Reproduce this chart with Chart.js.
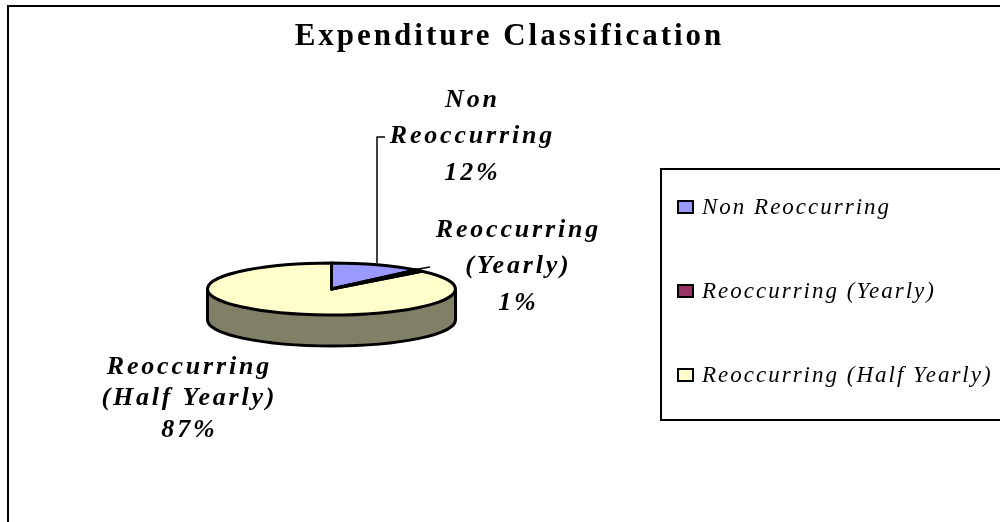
<!DOCTYPE html>
<html>
<head>
<meta charset="utf-8">
<script src="https://cdn.jsdelivr.net/npm/chart.js@4.4.1/dist/chart.umd.min.js"></script>
<style>
  html, body { margin: 0; padding: 0; background: #fff; }
  #wrap { width: 1000px; height: 522px; position: relative; }
</style>
</head>
<body>
<div id="wrap"><canvas id="pie"></canvas></div>
<script>
// Data
const TITLE = 'Expenditure Classification';
const categories = ['Non Reoccurring', 'Reoccurring (Yearly)', 'Reoccurring (Half Yearly)'];
const amounts = [12, 1, 87];
const sliceColors = ['#9999ff', '#993366', '#ffffcc'];
const sideColors = ['#4d4d80', '#4d1a33', '#808066'];

// Layout of the flattened pie
const PIE = { cx: 331.5, cy: 289, r: 124, squash: 26 / 124, depth: 31 };

// Data label placement (centre x, baselines) and leader lines
const labelSpots = [
    { x: 471, ys: [107, 143, 180] },
    { x: 517, ys: [237, 273, 310] },
    { x: 188, ys: [374, 405, 437] }
];
const leaders = [
    [[385, 137], [377, 137], [377, 263]],
    [[407, 271], [430, 267]],
    null
];

function splitLabel(s) {
    const i = s.indexOf(' ');
    return i < 0 ? [s] : [s.slice(0, i), s.slice(i + 1)];
}

function spacedText(ctx, text, x, y, spacing) {
    ctx.letterSpacing = spacing + 'px';
    ctx.fillText(text, x + spacing / 2, y);
    ctx.letterSpacing = '0px';
}

const pie3d = {
    id: 'pie3d',
    beforeDatasetsDraw(chart) {
        const ctx = chart.ctx;
        const arcs = chart.getDatasetMeta(0).data;

        // side wall, only the front half is visible
        arcs.forEach((arc, i) => {
            const p = arc.getProps(['x', 'y', 'startAngle', 'endAngle', 'outerRadius'], true);
            const a = Math.max(p.startAngle, 0);
            const b = Math.min(p.endAngle, Math.PI);
            if (b <= a) return;
            const rx = p.outerRadius, ry = p.outerRadius * PIE.squash;
            ctx.beginPath();
            ctx.ellipse(p.x, p.y, rx, ry, 0, a, b);
            ctx.ellipse(p.x, p.y + PIE.depth, rx, ry, 0, b, a, true);
            ctx.closePath();
            ctx.fillStyle = sideColors[i];
            ctx.fill();
        });

        // squash the top face
        const cy = arcs[0].y;
        ctx.save();
        ctx.translate(0, cy);
        ctx.scale(1, PIE.squash);
        ctx.translate(0, -cy);
    },
    afterDatasetsDraw(chart) {
        const ctx = chart.ctx;
        ctx.restore();
        const arcs = chart.getDatasetMeta(0).data;

        ctx.save();
        ctx.strokeStyle = '#000';
        ctx.lineWidth = 3;
        ctx.lineJoin = 'round';

        // wall outline
        const p0 = arcs[0].getProps(['x', 'y', 'outerRadius'], true);
        const rx = p0.outerRadius, ry = p0.outerRadius * PIE.squash;
        ctx.beginPath();
        ctx.moveTo(p0.x + rx, p0.y);
        ctx.ellipse(p0.x, p0.y + PIE.depth, rx, ry, 0, 0, Math.PI);
        ctx.lineTo(p0.x - rx, p0.y);
        ctx.stroke();

        // wedge outlines on top face
        arcs.forEach(arc => {
            const p = arc.getProps(['x', 'y', 'startAngle', 'endAngle', 'outerRadius'], true);
            ctx.beginPath();
            ctx.moveTo(p.x, p.y);
            ctx.ellipse(p.x, p.y, p.outerRadius, p.outerRadius * PIE.squash, 0, p.startAngle, p.endAngle);
            ctx.closePath();
            ctx.stroke();
        });

        // leader lines
        ctx.lineWidth = 1.5;
        leaders.forEach(pts => {
            if (!pts) return;
            ctx.beginPath();
            ctx.moveTo(pts[0][0], pts[0][1]);
            pts.slice(1).forEach(q => ctx.lineTo(q[0], q[1]));
            ctx.stroke();
        });

        // data labels
        const total = amounts.reduce((s, v) => s + v, 0);
        ctx.fillStyle = '#000';
        ctx.textAlign = 'center';
        ctx.textBaseline = 'alphabetic';
        ctx.font = 'italic bold 26px "Liberation Serif", "DejaVu Serif", serif';
        categories.forEach((name, i) => {
            const lines = splitLabel(name).concat(Math.round(amounts[i] / total * 100) + '%');
            const spot = labelSpots[i];
            lines.forEach((t, k) => spacedText(ctx, t, spot.x, spot.ys[k], 2.8));
        });

        ctx.restore();
    },
    afterDraw(chart) {
        const ctx = chart.ctx;
        ctx.save();

        // outer frame
        ctx.strokeStyle = '#000';
        ctx.lineWidth = 2;
        ctx.beginPath();
        ctx.moveTo(8, 522);
        ctx.lineTo(8, 6);
        ctx.lineTo(1000, 6);
        ctx.stroke();

        // title
        ctx.fillStyle = '#000';
        ctx.textAlign = 'center';
        ctx.textBaseline = 'alphabetic';
        ctx.font = 'bold 31px "Liberation Serif", "DejaVu Serif", serif';
        spacedText(ctx, TITLE, 508, 45, 3);

        // legend
        ctx.lineWidth = 2;
        ctx.strokeRect(661, 169, 360, 251);
        ctx.textAlign = 'left';
        ctx.font = 'italic 23px "Liberation Serif", "DejaVu Serif", serif';
        categories.forEach((name, i) => {
            const base = 214 + i * 84;
            ctx.fillStyle = sliceColors[i];
            ctx.fillRect(678, base - 13, 15, 12);
            ctx.strokeRect(678, base - 13, 15, 12);
            ctx.fillStyle = '#000';
            ctx.letterSpacing = '2px';
            ctx.fillText(name, 702, base);
            ctx.letterSpacing = '0px';
        });

        ctx.restore();
    }
};

new Chart(document.getElementById('pie'), {
    type: 'pie',
    data: {
        labels: categories,
        datasets: [{
            data: amounts,
            backgroundColor: sliceColors,
            borderWidth: 0
        }]
    },
    options: {
        responsive: true,
        maintainAspectRatio: false,
        animation: false,
        layout: {
            padding: {
                left: PIE.cx - PIE.r,
                right: 1000 - (PIE.cx + PIE.r),
                top: PIE.cy - PIE.r,
                bottom: 522 - (PIE.cy + PIE.r)
            }
        },
        plugins: {
            legend: { display: false },
            title: { display: false },
            tooltip: { enabled: false }
        }
    },
    plugins: [pie3d]
});
</script>
</body>
</html>
